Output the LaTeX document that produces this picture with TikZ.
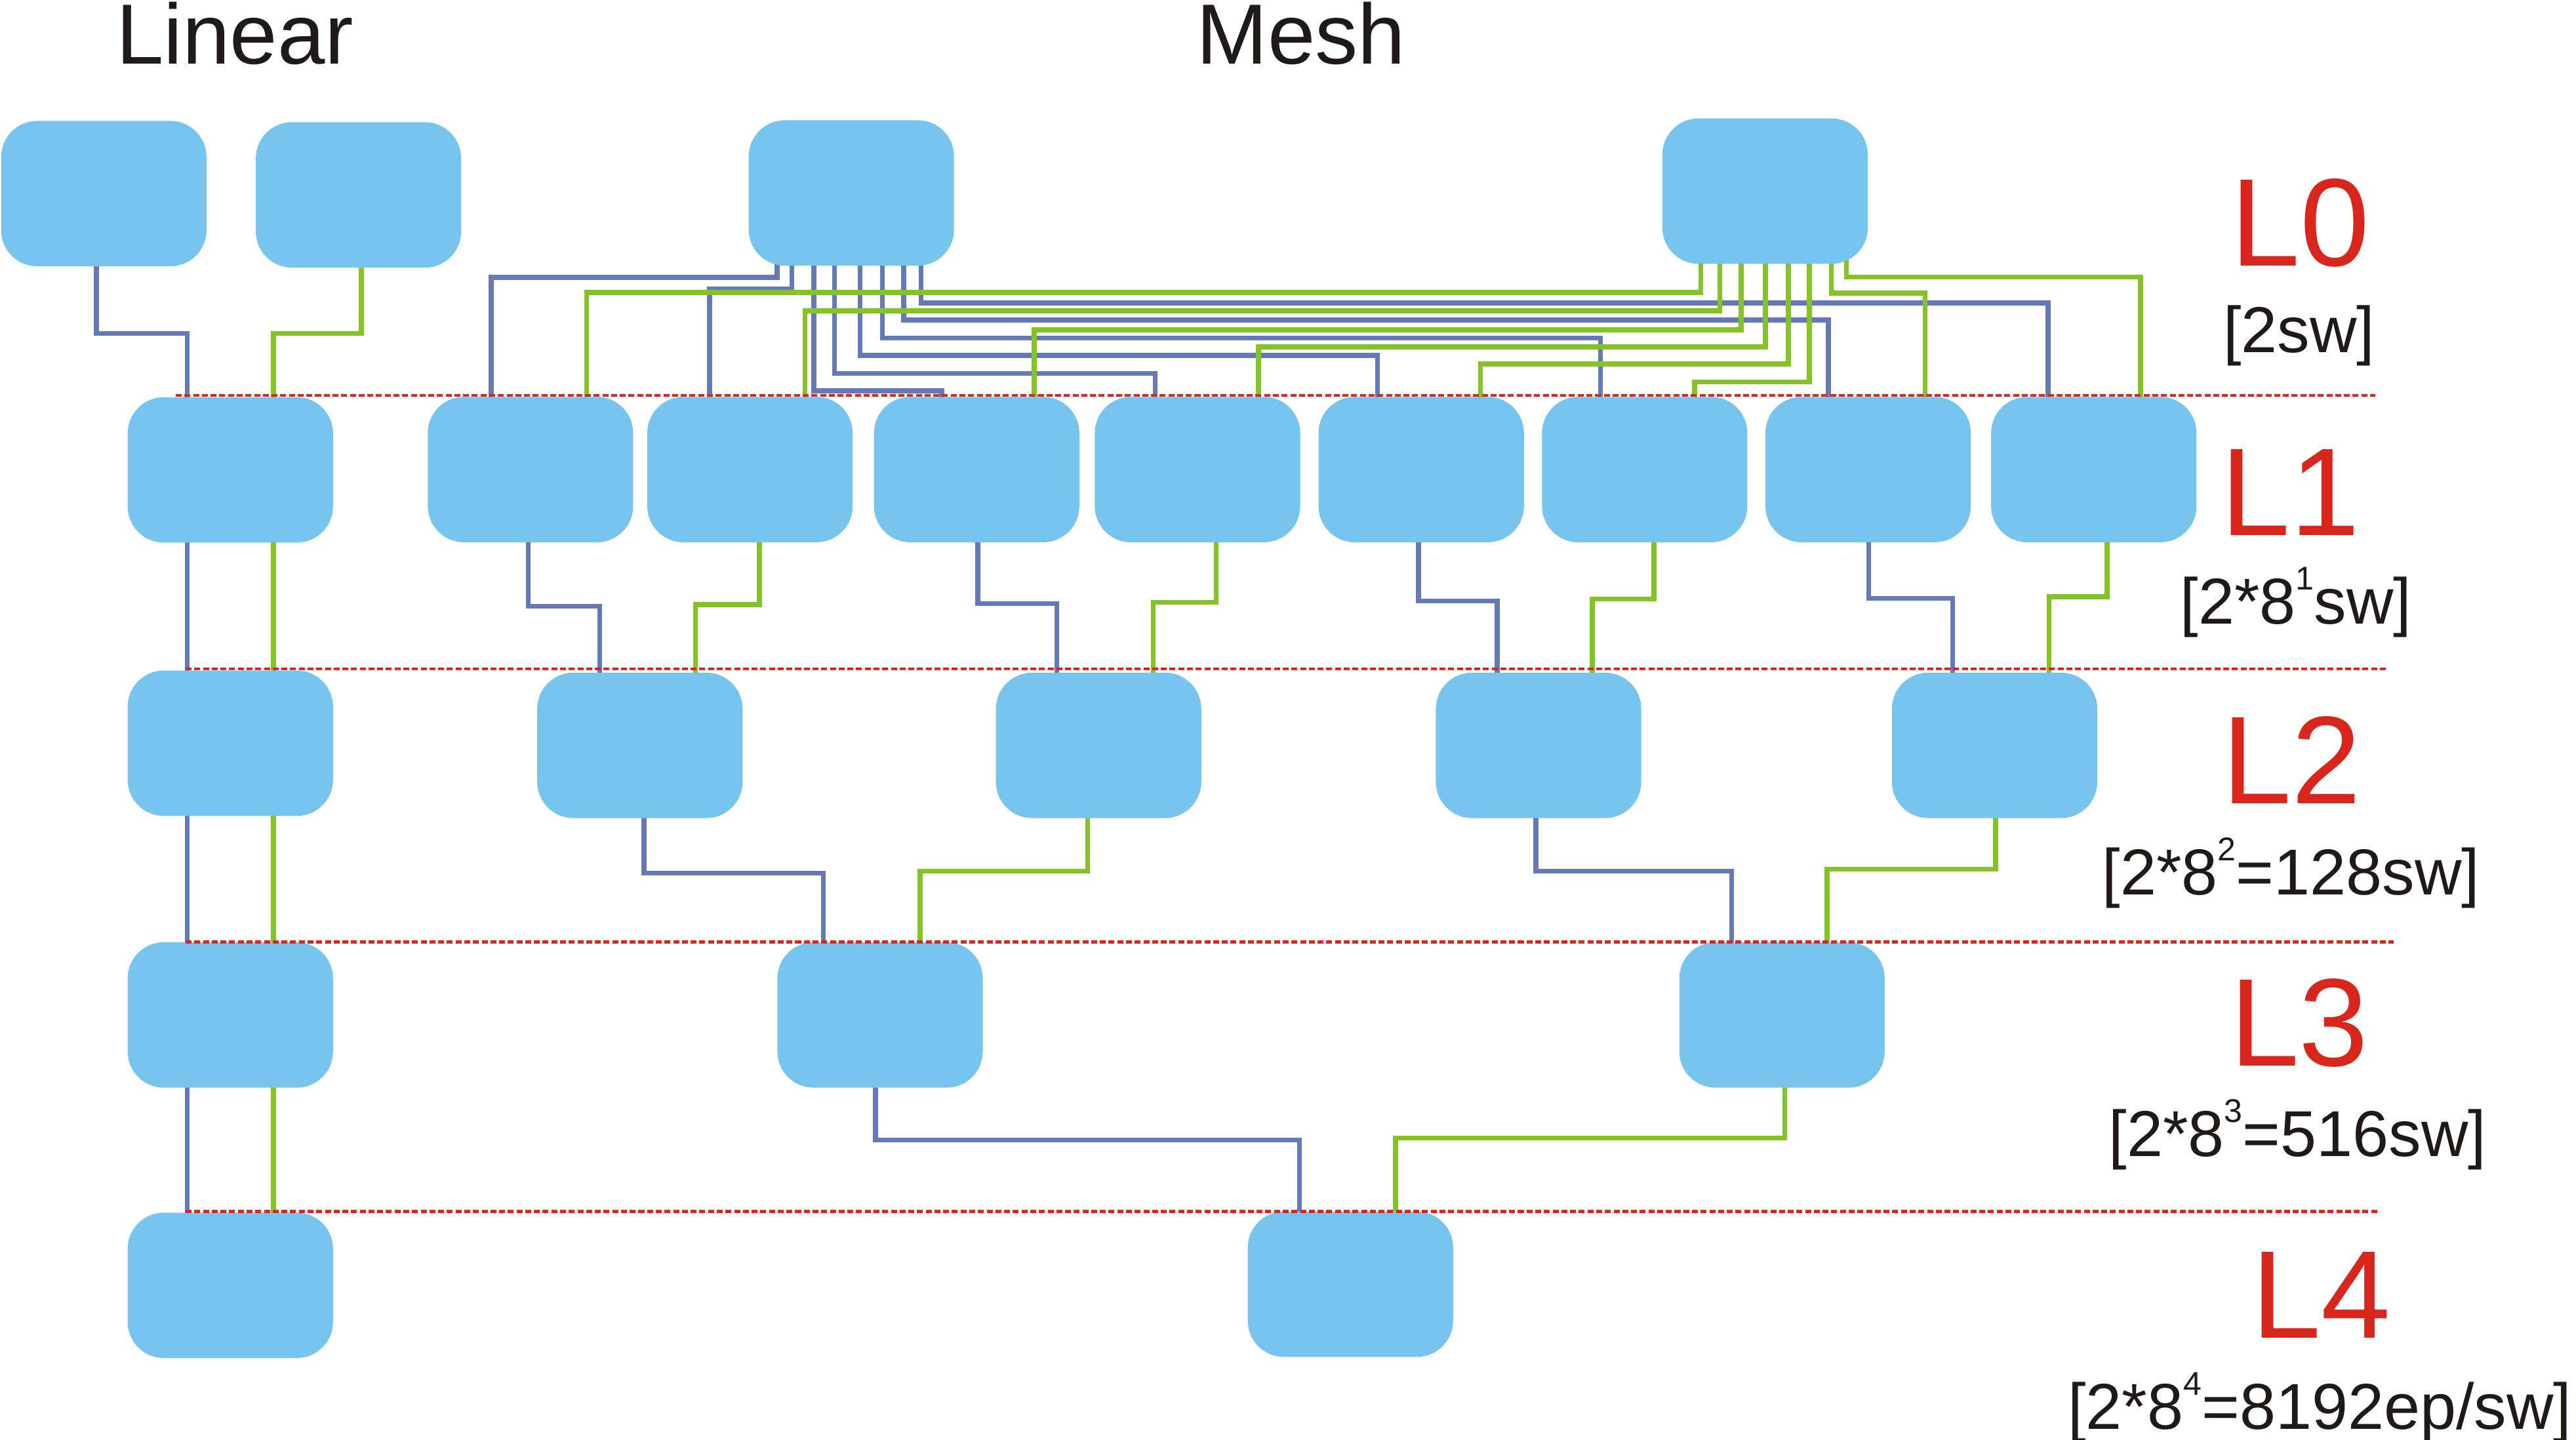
\documentclass[tikz,border=0pt]{standalone}
\usepackage{fontspec}
\setmainfont{Liberation Sans}
\usetikzlibrary{calc}
\definecolor{boxfill}{RGB}{119,196,239}
\definecolor{wireblue}{RGB}{100,121,181}
\definecolor{wiregreen}{RGB}{133,194,38}
\definecolor{lvlred}{RGB}{226,35,26}
\definecolor{lvltext}{RGB}{217,38,28}
\definecolor{txtblack}{RGB}{31,26,23}
\pgfdeclarelayer{background}
\pgfsetlayers{background,main}
% wire: style, source node, source x, target node, target x, middle y
\newcommand\mwire[6]{\draw[#1] (#2.center -| #3,0) -- (#3,#6) -- (#5,#6) -- (#4.center -| #5,0);}
\newcommand\supx[1]{\raisebox{20.8pt}{\fontsize{20}{20}\selectfont #1}}
\begin{document}
\begin{tikzpicture}[x=1pt,y=-1pt,
  swbox/.style={rectangle,rounded corners=22pt,fill=boxfill,minimum width=125pt,minimum height=88.5pt,inner sep=0pt,anchor=north west},
  bwire/.style={draw=wireblue,line width=3pt},
  gwire/.style={draw=wiregreen,line width=3pt},
  lvlline/.style={draw=lvlred,line width=1.7pt,dash pattern=on 3.6pt off 1.7pt},
  lvllab/.style={anchor=base,inner sep=0pt,text=lvltext,font=\fontsize{76}{76}\selectfont},
  cntlab/.style={anchor=base,inner sep=0pt,text=txtblack,font=\fontsize{39.5}{40}\selectfont},
  ttl/.style={anchor=base,inner sep=0pt,text=txtblack,font=\fontsize{52}{52}\selectfont}]
\useasboundingbox (0,0) rectangle (1568,876.6);

% titles
\node[ttl] (tlin) at (143,39) {Linear};
\node[ttl] (tmesh) at (792,39) {Mesh};

% linear column
\node[swbox] (la0) at (0.5,73.4) {};
\node[swbox] (lb0) at (155.5,74.2) {};
\node[swbox] (lin1) at (77.5,241.6) {};
\node[swbox] (lin2) at (77.5,408) {};
\node[swbox] (lin3) at (77.5,573.4) {};
\node[swbox] (lin4) at (77.5,738) {};

% mesh L0
\node[swbox] (mA) at (455.5,73) {};
\node[swbox] (mB) at (1011.7,71.9) {};
% mesh L1
\node[swbox] (m1) at (260.2,241.4) {};
\node[swbox] (m2) at (393.8,241.4) {};
\node[swbox] (m3) at (531.8,241.4) {};
\node[swbox] (m4) at (666.2,241.4) {};
\node[swbox] (m5) at (802.4,241.4) {};
\node[swbox] (m6) at (938.4,241.4) {};
\node[swbox] (m7) at (1074.4,241.4) {};
\node[swbox] (m8) at (1211.8,241.4) {};
% mesh L2
\node[swbox] (n1) at (326.8,409.3) {};
\node[swbox] (n2) at (606,409.3) {};
\node[swbox] (n3) at (873.8,409.3) {};
\node[swbox] (n4) at (1151.4,409.3) {};
% mesh L3
\node[swbox] (p1) at (473,573.4) {};
\node[swbox] (p2) at (1022,573.4) {};
% mesh L4
\node[swbox] (q1) at (759.3,737.3) {};

\begin{pgfonlayer}{background}
% linear wires
\mwire{bwire}{la0}{58.6}{lin1}{114}{203}
\mwire{gwire}{lb0}{220}{lin1}{166.5}{203}
\draw[bwire] (lin1.center -| 114,0) -- (lin4.center -| 114,0);
\draw[gwire] (lin1.center -| 166.5,0) -- (lin4.center -| 166.5,0);

% mesh L0 -> L1, blue plane
\mwire{bwire}{mA}{473}{m1}{299}{168.8}
\mwire{bwire}{mA}{482}{m2}{432}{176}
\mwire{bwire}{mA}{495.4}{m3}{573.3}{238}
\mwire{bwire}{mA}{508}{m4}{703.2}{227.4}
\mwire{bwire}{mA}{523.6}{m5}{838.5}{216.4}
\mwire{bwire}{mA}{537.1}{m6}{974.2}{205.8}
\mwire{bwire}{mA}{550.1}{m7}{1113}{194.8}
\mwire{bwire}{mA}{560.6}{m8}{1246.6}{184.5}
% mesh L0 -> L1, green plane
\mwire{gwire}{mB}{1035.2}{m1}{357.1}{178}
\mwire{gwire}{mB}{1046.9}{m2}{490}{189.3}
\mwire{gwire}{mB}{1059.8}{m3}{629.6}{200.7}
\mwire{gwire}{mB}{1074.6}{m4}{766}{211.1}
\mwire{gwire}{mB}{1088.5}{m5}{901.2}{221.6}
\mwire{gwire}{mB}{1101.4}{m6}{1031.4}{232.6}
\mwire{gwire}{mB}{1114.8}{m7}{1171.7}{178.5}
\mwire{gwire}{mB}{1123.8}{m8}{1303}{168.6}

% mesh L1 -> L2
\mwire{bwire}{m1}{321.5}{n1}{365}{369}
\mwire{gwire}{m2}{462.3}{n1}{423.4}{368}
\mwire{bwire}{m3}{595.2}{n2}{643.3}{367.4}
\mwire{gwire}{m4}{740.2}{n2}{702}{366.6}
\mwire{bwire}{m5}{863.5}{n3}{911.3}{365.8}
\mwire{gwire}{m6}{1006.7}{n3}{969.3}{364.6}
\mwire{bwire}{m7}{1137.4}{n4}{1188.5}{364.3}
\mwire{gwire}{m8}{1282.5}{n4}{1247.3}{363.2}

% mesh L2 -> L3
\mwire{bwire}{n1}{392}{p1}{501.2}{531.5}
\mwire{gwire}{n2}{662}{p1}{560}{530.3}
\mwire{bwire}{n3}{934.8}{p2}{1054}{530.3}
\mwire{gwire}{n4}{1214.8}{p2}{1112.2}{529.2}

% mesh L3 -> L4
\mwire{bwire}{p1}{533}{q1}{791}{694}
\mwire{gwire}{p2}{1086.4}{q1}{849.4}{692.8}
\end{pgfonlayer}

% level separators
\coordinate (s1a) at (107,240.8); \coordinate (s1b) at (1446,240.8);
\coordinate (s2a) at (113,407.3); \coordinate (s2b) at (1453,407.3);
\coordinate (s3a) at (113,573.4); \coordinate (s3b) at (1457,573.4);
\coordinate (s4a) at (113,737.5); \coordinate (s4b) at (1447,737.5);
\draw[lvlline] (s1a) -- (s1b);
\draw[lvlline] (s2a) -- (s2b);
\draw[lvlline] (s3a) -- (s3b);
\draw[lvlline] (s4a) -- (s4b);

% level labels
\node[lvllab] (L0) at (1400,162) {L0};
\node[cntlab] (c0) at (1399.5,214.4) {[2sw]};
\node[lvllab] (L1) at (1394,325.9) {L1};
\node[cntlab] (c1) at (1397.5,379.8) {[2*8\supx{1}sw]};
\node[lvllab] (L2) at (1395,489.3) {L2};
\node[cntlab] (c2) at (1394.5,544.8) {[2*8\supx{2}=128sw]};
\node[lvllab] (L3) at (1399.5,648.9) {L3};
\node[cntlab] (c3) at (1398.5,703.8) {[2*8\supx{3}=516sw]};
\node[lvllab] (L4) at (1413,814.6) {L4};
\node[cntlab] (c4) at (1412,870) {[2*8\supx{4}=8192ep/sw]};
\end{tikzpicture}
\end{document}
